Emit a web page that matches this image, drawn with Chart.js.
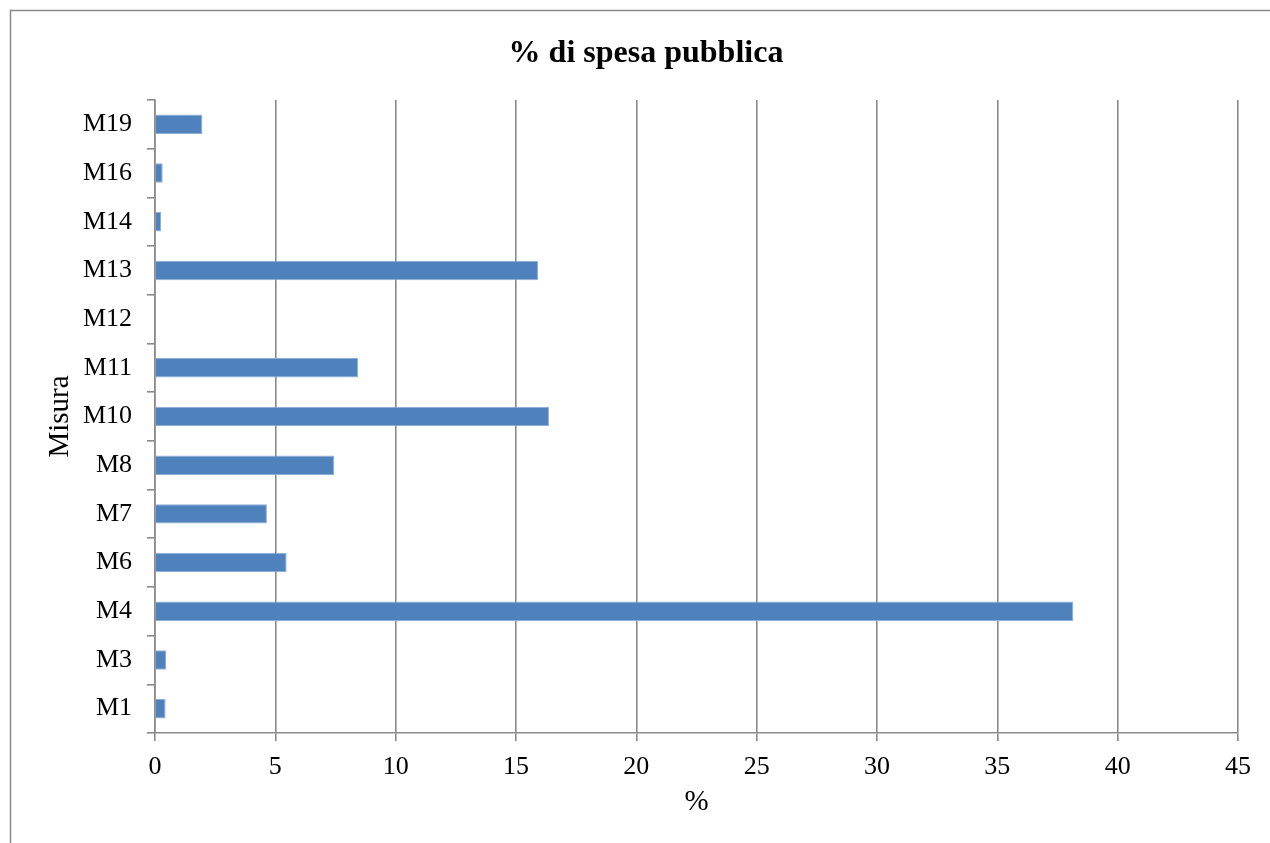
<!DOCTYPE html>
<html lang="it">
<head>
<meta charset="utf-8">
<title>% di spesa pubblica</title>
<script src="https://cdn.jsdelivr.net/npm/chart.js@4.4.1/dist/chart.umd.min.js"></script>
<style>
  html, body { margin: 0; padding: 0; background: #fff; }
  #wrap { position: relative; width: 1270px; height: 843px; }
</style>
</head>
<body>
<div id="wrap"><canvas id="spesaChart"></canvas></div>

<script>
/* ========= DATA ========= */

const titolo = "% di spesa pubblica";
const misure = ["M1", "M3", "M4", "M6", "M7", "M8", "M10", "M11", "M12", "M13", "M14", "M16", "M19"];
const percentuali = [0.44, 0.46, 38.16, 5.47, 4.65, 7.45, 16.37, 8.44, 0, 15.92, 0.25, 0.32, 1.97];
const xTicks = [0, 5, 10, 15, 20, 25, 30, 35, 40, 45];


/* ========= STYLE ========= */

const SERIF = '"Liberation Serif", "Times New Roman", serif';
const GRID = "#8a8a8a";


/* ========= FRAME + TITLE ========= */

// cornice grigia e titolo centrato sul riquadro (non sull'area del canvas)
const framePlugin = {
  id: "frame",
  beforeDraw(chart) {
    const ctx = chart.ctx;
    ctx.save();
    ctx.strokeStyle = GRID;
    ctx.lineWidth = 1.5;
    ctx.strokeRect(10.5, 10.5, 1400, 1000);

    ctx.fillStyle = "#000";
    ctx.font = "bold 32px " + SERIF;
    ctx.textAlign = "center";
    ctx.textBaseline = "alphabetic";
    ctx.fillText(titolo, 646, 62);
    ctx.restore();
  }
};


/* ========= CHART ========= */

function loadChart() {
  const canvas = document.getElementById("spesaChart");

  new Chart(canvas, {
    type: "bar",
    data: {
      labels: misure,
      datasets: [{
        label: titolo,
        data: percentuali,
        backgroundColor: "#4F81BD",
        borderColor: "#8FAED6",
        borderWidth: 1,
        categoryPercentage: 1,
        barPercentage: 0.4
      }]
    },
    options: {
      indexAxis: "y",
      responsive: true,
      maintainAspectRatio: false,
      animation: false,
      layout: { padding: { top: 100, left: 0, right: 32, bottom: 0 } },
      plugins: {
        legend: { display: false },
        tooltip: { enabled: false },
        title: { display: false }
      },
      scales: {
        x: {
          min: 0,
          max: 45,
          afterBuildTicks: (scale) => {
            scale.ticks = xTicks.map(v => ({ value: v }));
          },
          afterFit: (scale) => { scale.height = 110; },
          grid: { color: GRID, lineWidth: 1.6, tickLength: 8, drawTicks: true },
          border: { color: GRID, width: 1.6 },
          ticks: { color: "#000", font: { family: SERIF, size: 26 }, padding: 11, maxRotation: 0 },
          title: {
            display: true,
            text: "%",
            color: "#000",
            font: { family: SERIF, size: 29 },
            padding: { top: 0, bottom: 23 }
          }
        },
        y: {
          reverse: true,
          afterFit: (scale) => { scale.width = 155; },
          grid: { color: GRID, lineWidth: 1.6, drawOnChartArea: false, drawTicks: true, tickLength: 8, offset: true },
          border: { color: GRID, width: 1.6 },
          ticks: { color: "#000", font: { family: SERIF, size: 26 }, padding: 15 },
          title: {
            display: true,
            text: "Misura",
            color: "#000",
            font: { family: SERIF, size: 29 },
            padding: { top: 43, bottom: 0 }
          }
        }
      }
    },
    plugins: [framePlugin]
  });
}


/* ========= INIT ========= */

document.addEventListener("DOMContentLoaded", loadChart);
</script>
</body>
</html>
